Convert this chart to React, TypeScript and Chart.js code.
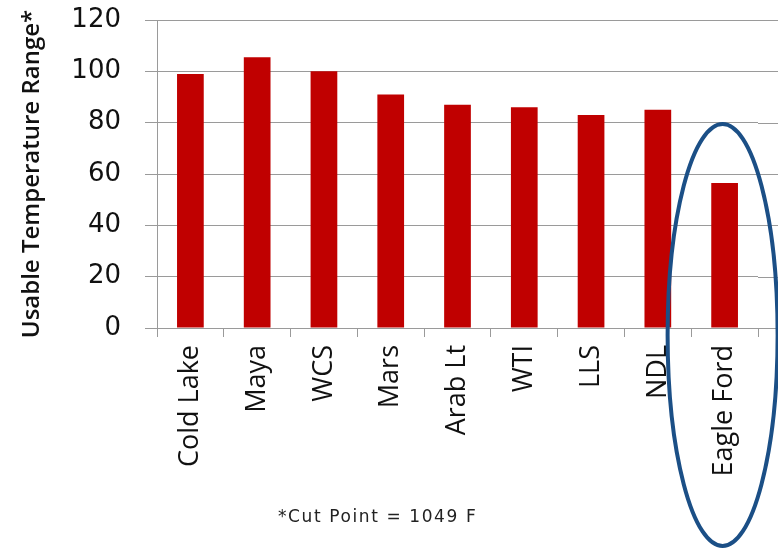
import React, { useEffect, useRef } from "react";
import { Chart, registerables } from "chart.js";
Chart.register(...registerables);

const categories = ["Cold Lake", "Maya", "WCS", "Mars", "Arab Lt", "WTI", "LLS", "NDL", "Eagle Ford"];
const values = [99, 105.5, 100, 91, 87, 86, 83, 85, 56.5];
const yMin = 0;
const yMax = 120;
const yStep = 20;
const yTitle = "Usable Temperature Range*";
const footnote = "*Cut Point = 1049 F";
const highlightIndex = 8;

const GRID = "#9a9a9a";

const extrasPlugin = {
  id: "extras",
  beforeDatasetsDraw(chart: any) {
    const { ctx, chartArea, scales } = chart;
    ctx.save();
    ctx.strokeStyle = GRID;
    ctx.lineWidth = 1;
    for (let v = yMin; v <= yMax; v += yStep) {
      const y = Math.round(scales.y.getPixelForValue(v)) + 0.5;
      ctx.beginPath();
      ctx.moveTo(chartArea.right, y);
      ctx.lineTo(chart.width, y);
      ctx.stroke();
    }
    ctx.restore();
  },
  afterDraw(chart: any) {
    const { ctx, scales } = chart;
    const cx = scales.x.getPixelForValue(highlightIndex) - 2;
    ctx.save();
    ctx.strokeStyle = "#1B4F86";
    ctx.lineWidth = 4;
    ctx.beginPath();
    ctx.ellipse(cx, 335, 55, 211, 0, 0, Math.PI * 2);
    ctx.stroke();
    ctx.restore();
  },
};

export default function App() {
  const ref = useRef<HTMLCanvasElement | null>(null);
  useEffect(() => {
    if (!ref.current) return;
    const chart = new Chart(ref.current, {
      type: "bar",
      data: {
        labels: categories,
        datasets: [
          {
            data: values,
            backgroundColor: "#C00000",
            borderWidth: 0,
            categoryPercentage: 0.8,
            barPercentage: 0.5,
          },
        ],
      },
      options: {
        animation: false,
        responsive: false,
        maintainAspectRatio: false,
        layout: { padding: { top: 20, right: 20, left: 0, bottom: 0 } },
        plugins: { legend: { display: false }, tooltip: { enabled: false } },
        scales: {
          y: {
            min: yMin,
            max: yMax,
            ticks: {
              stepSize: yStep,
              color: "#111",
              font: { family: "DejaVu Sans", size: 26 },
              padding: 24,
            },
            grid: { color: GRID, tickLength: 12, lineWidth: 1 },
            border: { color: GRID },
            title: {
              display: true,
              text: yTitle,
              color: "#111",
              font: { family: "Open Sans", size: 24, weight: "600" },
              padding: { top: 18, bottom: 0 },
            },
            afterFit: (s: any) => {
              s.width = 157;
              s.paddingTop = 0;
              s.paddingBottom = 0;
            },
          },
          x: {
            ticks: {
              minRotation: 90,
              maxRotation: 90,
              autoSkip: false,
              color: "#111",
              font: { family: "Open Sans", size: 27 },
              padding: 8,
            },
            grid: { drawOnChartArea: false, drawTicks: true, tickLength: 9, color: GRID },
            border: { color: GRID },
            afterFit: (s: any) => {
              s.height = 221;
              s.paddingTop = 0;
              s.paddingBottom = 0;
            },
          },
        },
      },
      plugins: [extrasPlugin],
    } as any);
    return () => chart.destroy();
  }, []);
  return (
    <div style={{ position: "fixed", left: 0, top: 0, width: 778, height: 549, background: "#fff" }}>
      <canvas ref={ref} width={778} height={549} />
      <div
        style={{
          position: "absolute",
          left: 278,
          top: 506,
          fontFamily: "DejaVu Sans",
          fontSize: 17,
          color: "#222",
          whiteSpace: "nowrap",
          letterSpacing: 1.6,
        }}
      >
        {footnote}
      </div>
    </div>
  );
}
